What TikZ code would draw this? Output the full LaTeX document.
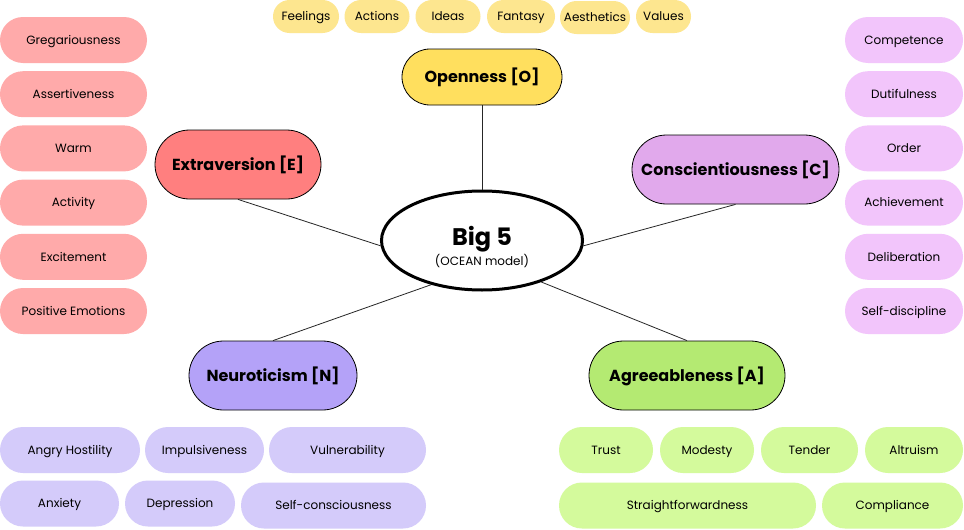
\documentclass[tikz,border=0pt]{standalone}
\usepackage{fontspec}
\setmainfont{Poppins}
\usetikzlibrary{shapes.geometric,shapes.misc}

\definecolor{openT}{HTML}{FFDF5E}
\definecolor{openF}{HTML}{FDE68F}
\definecolor{extraT}{HTML}{FF7F7F}
\definecolor{extraF}{HTML}{FFAAAA}
\definecolor{consT}{HTML}{E1A9EC}
\definecolor{consF}{HTML}{F2C5FB}
\definecolor{neuroT}{HTML}{B4A2F8}
\definecolor{neuroF}{HTML}{D4CBFA}
\definecolor{agreeT}{HTML}{B4EA72}
\definecolor{agreeF}{HTML}{D4FA9C}

\tikzset{
  facet/.style={rounded rectangle, minimum height=46pt, inner sep=0pt, text height=10.5pt, text depth=2pt, text=black, font=\fontsize{12}{14}\selectfont},
  topfacet/.style={facet, minimum height=33pt, fill=openF},
  trait/.style={rounded rectangle, draw=black, line width=0.8pt, minimum height=69pt, inner sep=0pt, text height=13pt, text depth=2pt, font=\fontsize{16}{19}\selectfont\bfseries},
  link/.style={draw=black!85, line width=0.8pt},
}

\begin{document}
\begin{tikzpicture}[x=1pt,y=-1pt]
    \useasboundingbox[fill=white](0,0)rectangle(964,530);
    % centre
    \node[ellipse, draw=black, line width=3pt, minimum width=201pt, minimum height=99pt] (big) at (482,240.5) {};
    \node[align=center, inner sep=0pt] (bigtxt) at (482,247) {{\fontsize{24}{26}\selectfont\bfseries Big 5}\\[1pt]{\fontsize{12}{14}\selectfont (OCEAN model)}};
    % the five traits
    \node[trait, fill=openT, minimum width=160pt, minimum height=56pt] (open) at (482,77) {Openness [O]};
    \node[trait, fill=extraT, minimum width=166pt] (extra) at (238,164.5) {Extraversion [E]};
    \node[trait, fill=consT, minimum width=207pt] (cons) at (735.5,169.5) {Conscientiousness [C]};
    \node[trait, fill=neuroT, minimum width=168pt] (neuro) at (273,375.5) {Neuroticism [N]};
    \node[trait, fill=agreeT, minimum width=196pt] (agree) at (687,375.5) {Agreeableness [A]};
    \draw[link](open.south)--(big.north);
    \draw[link](extra.south)--(big.-177);
    \draw[link](cons.south)--(big.-3);
    \draw[link](neuro.north)--(big.-139);
    \draw[link](agree.north)--(big.-35);
    % openness facets
    \node[topfacet, minimum width=66pt] (o1) at (306,16.5) {Feelings};
    \node[topfacet, minimum width=65pt] (o2) at (377,16.5) {Actions};
    \node[topfacet, minimum width=65pt] (o3) at (448,16.5) {Ideas};
    \node[topfacet, minimum width=68pt] (o4) at (521,16.5) {Fantasy};
    \node[topfacet, minimum width=70pt] (o5) at (595,17.5) {Aesthetics};
    \node[topfacet, minimum width=55pt] (o6) at (663.5,16.5) {Values};
    % extraversion and conscientiousness facets
    \foreach \lbl[count=\i] in {Gregariousness,Assertiveness,Warm,Activity,Excitement,Positive Emotions}
        \node[facet, fill=extraF, minimum width=147pt] (e\i) at (73.5,{40+54.2*(\i-1)}) {\lbl};
    \foreach \lbl[count=\i] in {Competence,Dutifulness,Order,Achievement,Deliberation,Self-discipline}
        \node[facet, fill=consF, minimum width=118pt] (c\i) at (904,{40+54.2*(\i-1)}) {\lbl};
    % neuroticism facets
    \node[facet, fill=neuroF, minimum width=140pt] (n1) at (70,450) {Angry Hostility};
    \node[facet, fill=neuroF, minimum width=119pt] (n2) at (204.5,450) {Impulsiveness};
    \node[facet, fill=neuroF, minimum width=157pt] (n3) at (347.5,450) {Vulnerability};
    \node[facet, fill=neuroF, minimum width=119pt] (n4) at (59.5,503.5) {Anxiety};
    \node[facet, fill=neuroF, minimum width=110pt] (n5) at (180,503.5) {Depression};
    \node[facet, fill=neuroF, minimum width=185pt] (n6) at (333.5,505.5) {Self-consciousness};
    % agreeableness facets
    \node[facet, fill=agreeF, minimum width=94pt] (a1) at (606,450) {Trust};
    \node[facet, fill=agreeF, minimum width=94pt] (a2) at (707,450) {Modesty};
    \node[facet, fill=agreeF, minimum width=97pt] (a3) at (809.5,450) {Tender};
    \node[facet, fill=agreeF, minimum width=98pt] (a4) at (914,450) {Altruism};
    \node[facet, fill=agreeF, minimum width=257pt] (a5) at (687.5,505.5) {Straightforwardness};
    \node[facet, fill=agreeF, minimum width=141pt] (a6) at (892.5,505.5) {Compliance};
\end{tikzpicture}
\end{document}
